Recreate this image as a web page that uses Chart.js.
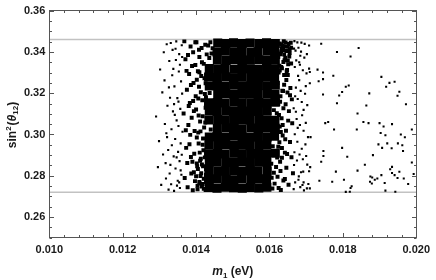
<!DOCTYPE html>
<html>
<head>
<meta charset="utf-8">
<script src="https://cdn.jsdelivr.net/npm/chart.js@4/dist/chart.umd.min.js"></script>
<style>
  body { margin: 0; background: #fff; }
  #box { width: 436px; height: 280px; }
</style>
</head>
<body>
<div id="box"><canvas id="myChart" width="436" height="280"></canvas></div>
<script>
'use strict';

// axis limits, minor tick steps and label steps
let m1Range = [0.010, 0.020];
let s12Range = [0.25, 0.36];
let m1Step = 0.0004;
let m1LabelStep = 0.002;
let s12Step = 0.005;
let s12LabelStep = 0.02;

// allowed range of sin^2(theta12) (grey lines)
let bandS12 = [0.272, 0.346];

// scan points [m1, sin^2(theta12)]
// sparse points right of the cloud
let tailPoints = [
  [0.01741,0.3439],[0.01843,0.3419],[0.01784,0.3399],[0.01821,0.3378],[0.01710,0.3303],
  [0.01731,0.3314],[0.01746,0.3300],[0.01774,0.3284],[0.01734,0.3258],[0.01746,0.3268],
  [0.01905,0.3279],[0.01927,0.3250],[0.01941,0.3255],[0.01918,0.3231],[0.01816,0.3237],
  [0.01808,0.3231],[0.01798,0.3206],[0.01790,0.3189],[0.01872,0.3199],[0.01954,0.3207],
  [0.01949,0.3188],[0.01746,0.3194],[0.01784,0.3151],[0.01864,0.3140],[0.01972,0.3146],
  [0.01840,0.3102],[0.01752,0.3055],[0.01760,0.3060],[0.01856,0.3060],[0.01870,0.3055],
  [0.01900,0.3055],[0.01911,0.3039],[0.01934,0.3050],[0.01776,0.3024],[0.01838,0.3024],
  [0.01988,0.3024],[0.01903,0.3007],[0.01916,0.2996],[0.01958,0.3000],[0.01969,0.2987],
  [0.01798,0.2935],[0.01812,0.2892],[0.01747,0.2920],[0.01747,0.2896],[0.01741,0.2868],
  [0.01860,0.2853],[0.01882,0.2900],[0.01840,0.2825],[0.01781,0.2820],[0.01736,0.2776],
  [0.01771,0.2771],[0.01803,0.2781],[0.01824,0.2749],[0.01821,0.2741],[0.01808,0.2722],
  [0.01819,0.2723],[0.01875,0.2796],[0.01880,0.2792],[0.01874,0.2771],[0.01879,0.2763],
  [0.01887,0.2781],[0.01894,0.2787],[0.01905,0.2803],[0.01914,0.2765],[0.01916,0.2728],
  [0.01943,0.2723],[0.01929,0.2832],[0.01934,0.2843],[0.01934,0.2813],[0.01941,0.2803],
  [0.01954,0.2819],[0.01949,0.2789],[0.01966,0.2787],[0.01978,0.2760],[0.01988,0.2864],
  [0.01993,0.2809],[0.01964,0.2920],[0.01950,0.2957],[0.01933,0.2933],[0.01921,0.2957],
  [0.01907,0.2935],[0.01897,0.2952],[0.01962,0.2948]
];

// thin edges of the cloud (left 0.0129-0.0136, right 0.0166-0.0171)
let edgePoints = [
  [0.01291,0.3087],[0.01296,0.2842],[0.01302,0.3315],[0.01299,0.2968],[0.01305,0.2756],
  [0.01308,0.3204],[0.01312,0.3398],[0.01310,0.2903],[0.01315,0.3051],[0.01318,0.2787],
  [0.01314,0.3262],[0.01320,0.3437],[0.01317,0.2861],[0.01322,0.3139],[0.01319,0.3006],
  [0.01325,0.2733],[0.01327,0.3356],[0.01324,0.2925],[0.01329,0.3178],[0.01331,0.3443],
  [0.01328,0.2811],[0.01333,0.3025],[0.01335,0.3287],[0.01332,0.2759],[0.01337,0.3112],
  [0.01339,0.2894],[0.01336,0.3410],[0.01341,0.3233],[0.01343,0.2978],[0.01340,0.2727],
  [0.01345,0.3361],[0.01344,0.2835],[0.01347,0.3068],[0.01349,0.3176],[0.01346,0.3451],
  [0.01351,0.2916],[0.01350,0.2776],[0.01353,0.3305],[0.01352,0.3041],[0.01355,0.2871],
  [0.01354,0.3389],[0.01357,0.3124],[0.01356,0.2741],[0.01359,0.3257],[0.01358,0.2957],
  [0.01361,0.3432],[0.01360,0.2805],[0.01362,0.3198],[0.01363,0.3013],[0.01361,0.2902],
  [0.01338,0.3318],[0.01342,0.3095],[0.01348,0.2752],[0.01334,0.2948],[0.01356,0.3338],
  [0.01326,0.3228],[0.01352,0.3159],[0.01344,0.3415],[0.01330,0.2853],[0.01358,0.2826],
  [0.01321,0.2987],[0.01347,0.2889],[0.01362,0.3375],[0.01340,0.3147],[0.01354,0.2768],
  [0.01668,0.3452],[0.01691,0.3311],[0.01675,0.2874],[0.01702,0.3389],[0.01683,0.3046],
  [0.01670,0.2768],[0.01697,0.3197],[0.01679,0.3420],[0.01688,0.2931],[0.01710,0.3248],
  [0.01666,0.3127],[0.01684,0.2745],[0.01699,0.3056],[0.01673,0.3359],[0.01692,0.2820],
  [0.01681,0.3263],[0.01705,0.2987],[0.01669,0.3001],[0.01686,0.3401],[0.01677,0.3172],
  [0.01694,0.2729],[0.01672,0.3227],[0.01700,0.2896],[0.01683,0.3338],[0.01667,0.2852],
  [0.01689,0.3093],[0.01708,0.3431],[0.01676,0.2965],[0.01695,0.3372],[0.01680,0.2797],
  [0.01671,0.3406],[0.01698,0.2952],[0.01685,0.3211],[0.01666,0.2735],[0.01703,0.3142],
  [0.01678,0.3284],[0.01690,0.2755],[0.01674,0.3075],[0.01687,0.3445],[0.01711,0.2842],
  [0.01669,0.3327],[0.01693,0.3018],[0.01682,0.2903],[0.01676,0.3446],[0.01701,0.3296],
  [0.01668,0.2914],[0.01688,0.3157],[0.01679,0.2781],[0.01696,0.3439],[0.01672,0.3110],
  [0.01684,0.3381],[0.01706,0.2760],[0.01670,0.3185],[0.01691,0.2880],[0.01677,0.3032],
  [0.01699,0.3234],[0.01667,0.3416],[0.01686,0.2817],[0.01681,0.3350],[0.01693,0.3119],
  [0.01708,0.3319],[0.01712,0.2987],[0.01703,0.2854],[0.01708,0.2822],[0.01693,0.2768],
  [0.01702,0.2739],[0.01710,0.2739]
];

// denser shoulders next to the core
let nearPoints = [
  [0.01366,0.3102],[0.01369,0.2789],[0.01371,0.3364],[0.01373,0.2935],[0.01375,0.3217],
  [0.01368,0.3451],[0.01377,0.2744],[0.01379,0.3046],[0.01381,0.3293],[0.01376,0.2862],
  [0.01383,0.3152],[0.01385,0.3426],[0.01387,0.2811],[0.01384,0.2998],[0.01389,0.3332],
  [0.01391,0.2730],[0.01388,0.3081],[0.01393,0.3249],[0.01395,0.2907],[0.01392,0.3398],
  [0.01397,0.2774],[0.01399,0.3185],[0.01396,0.3017],[0.01401,0.3447],[0.01403,0.2846],
  [0.01400,0.3121],[0.01405,0.3306],[0.01407,0.2956],[0.01404,0.2752],[0.01409,0.3375],
  [0.01411,0.3063],[0.01408,0.3231],[0.01413,0.2882],[0.01415,0.3419],[0.01412,0.2799],
  [0.01417,0.3166],[0.01419,0.2981],[0.01416,0.3350],[0.01421,0.2737],[0.01423,0.3272],
  [0.01420,0.2924],[0.01425,0.3435],[0.01422,0.3034],[0.01427,0.2832],[0.01424,0.3196],
  [0.01378,0.3385],[0.01382,0.2953],[0.01386,0.3240],[0.01390,0.2868],[0.01394,0.3113],
  [0.01398,0.3336],[0.01402,0.2985],[0.01406,0.3174],[0.01410,0.2763],[0.01414,0.3283],
  [0.01418,0.3088],[0.01372,0.3020],[0.01380,0.3138],[0.01394,0.2817],[0.01402,0.3265],
  [0.01410,0.2912],[0.01418,0.2760],[0.01374,0.3308],[0.01386,0.2891],[0.01398,0.3447],
  [0.01406,0.3009],[0.01426,0.3129],[0.01416,0.2855],[0.01392,0.3162],[0.01408,0.3410],
  [0.01404,0.2735],[0.01416,0.2748],[0.01426,0.2731],[0.01409,0.2770],[0.01421,0.2786],
  [0.01400,0.2798],[0.01414,0.2812],[0.01427,0.2805],[0.01405,0.2833],[0.01419,0.2846],
  [0.01411,0.2873],[0.01424,0.2889],[0.01402,0.2860],[0.01412,0.3015],[0.01425,0.3058],
  [0.01407,0.3092],[0.01428,0.3140],[0.01413,0.3205],[0.01426,0.3248],[0.01409,0.3301],
  [0.01421,0.3342],[0.01429,0.3388],[0.01418,0.2950],[0.01430,0.2975],[0.01427,0.3180],
  [0.01433,0.3431],[0.01445,0.3418],[0.01439,0.3447],[0.01442,0.3392],[0.01436,0.3370],
  [0.01437,0.3201],[0.01440,0.3024],
  [0.01617,0.3448],[0.01620,0.3103],[0.01622,0.2795],[0.01619,0.3267],[0.01624,0.2941],
  [0.01626,0.3392],[0.01628,0.3038],[0.01625,0.2741],[0.01630,0.3185],[0.01632,0.3436],
  [0.01629,0.2868],[0.01634,0.3321],[0.01636,0.2995],[0.01633,0.3079],[0.01638,0.2777],
  [0.01640,0.3241],[0.01637,0.3409],[0.01642,0.2912],[0.01644,0.3146],[0.01641,0.3360],
  [0.01646,0.2839],[0.01648,0.3425],[0.01645,0.3018],[0.01650,0.3288],[0.01652,0.2756],
  [0.01649,0.3203],[0.01654,0.3378],[0.01656,0.2964],[0.01653,0.3113],[0.01658,0.3444],
  [0.01660,0.2890],[0.01657,0.3225],[0.01662,0.3054],[0.01659,0.3344],[0.01664,0.2812],
  [0.01618,0.3006],[0.01621,0.2888],[0.01623,0.3163],[0.01627,0.3333],[0.01631,0.2731],
  [0.01635,0.3212],[0.01639,0.3452],[0.01643,0.2977],[0.01647,0.3306],[0.01651,0.3067],
  [0.01655,0.3413],[0.01661,0.3170],[0.01620,0.3419],[0.01624,0.3375],[0.01628,0.3310],
  [0.01632,0.3402],[0.01636,0.3431],[0.01640,0.3387],[0.01644,0.3446],[0.01630,0.2823],
  [0.01638,0.3127],[0.01646,0.3264],[0.01634,0.2934],[0.01642,0.2784],[0.01650,0.3358],
  [0.01626,0.3094],[0.01648,0.2905],[0.01622,0.3249],[0.01656,0.3190],[0.01636,0.3046],
  [0.01628,0.3441],[0.01641,0.3428],[0.01652,0.3438],[0.01633,0.3418],[0.01646,0.3404],
  [0.01659,0.3420],[0.01629,0.3389],[0.01643,0.3372],[0.01655,0.3395],[0.01638,0.3351],
  [0.01651,0.3340],[0.01632,0.3327],[0.01648,0.3312],[0.01625,0.3300],[0.01640,0.3288],
  [0.01608,0.2738],[0.01614,0.2762],[0.01606,0.2790],[0.01612,0.2815],[0.01618,0.2842],
  [0.01605,0.2858],[0.01624,0.3148],[0.01631,0.3012],[0.01619,0.3061],[0.01637,0.3211],
  [0.01627,0.2962],[0.01634,0.2887],[0.01621,0.3235],[0.01629,0.3159],[0.01612,0.3118],
  [0.01609,0.2943]
];

// the saturated core of the cloud (drawn with bigger marks)
let corePoints = [
  [0.01459,0.3443],[0.01481,0.3440],[0.01502,0.3444],[0.01526,0.3441],[0.01547,0.3443],[0.01571,0.3440],[0.01592,0.3444],[0.01616,0.3441],
  [0.01457,0.3399],[0.01480,0.3403],[0.01504,0.3400],[0.01524,0.3402],[0.01549,0.3398],[0.01569,0.3401],[0.01594,0.3403],[0.01614,0.3399],
  [0.01458,0.3361],[0.01482,0.3358],[0.01503,0.3362],[0.01525,0.3359],[0.01548,0.3361],[0.01571,0.3362],[0.01592,0.3358],[0.01616,0.3360],
  [0.01436,0.3319],[0.01459,0.3317],[0.01479,0.3320],[0.01504,0.3316],[0.01526,0.3319],[0.01547,0.3318],[0.01570,0.3316],[0.01593,0.3320],[0.01615,0.3317],
  [0.01434,0.3278],[0.01458,0.3276],[0.01481,0.3279],[0.01502,0.3275],[0.01525,0.3278],[0.01549,0.3276],[0.01571,0.3279],[0.01592,0.3277],[0.01614,0.3276],
  [0.01436,0.3235],[0.01457,0.3237],[0.01480,0.3234],[0.01503,0.3238],[0.01526,0.3236],[0.01548,0.3234],[0.01570,0.3237],[0.01594,0.3235],[0.01616,0.3238],
  [0.01459,0.3193],[0.01481,0.3197],[0.01504,0.3194],[0.01524,0.3196],[0.01547,0.3195],[0.01569,0.3193],[0.01593,0.3197],[0.01615,0.3194],
  [0.01434,0.3153],[0.01458,0.3155],[0.01479,0.3152],[0.01503,0.3156],[0.01525,0.3154],[0.01549,0.3152],[0.01571,0.3155],[0.01592,0.3153],[0.01616,0.3156],
  [0.01436,0.3114],[0.01457,0.3111],[0.01481,0.3115],[0.01502,0.3112],[0.01526,0.3114],[0.01548,0.3111],[0.01570,0.3113],[0.01594,0.3115],
  [0.01435,0.3070],[0.01459,0.3073],[0.01480,0.3071],[0.01504,0.3069],[0.01525,0.3072],[0.01547,0.3070],[0.01571,0.3073],[0.01593,0.3071],[0.01615,0.3069],
  [0.01458,0.3029],[0.01482,0.3032],[0.01503,0.3030],[0.01524,0.3028],[0.01549,0.3031],[0.01569,0.3029],[0.01592,0.3032],[0.01616,0.3030],
  [0.01436,0.2988],[0.01457,0.2990],[0.01480,0.2987],[0.01502,0.2991],[0.01526,0.2989],[0.01548,0.2987],[0.01570,0.2990],[0.01594,0.2988],[0.01614,0.2991],
  [0.01435,0.2949],[0.01459,0.2946],[0.01481,0.2950],[0.01504,0.2947],[0.01525,0.2949],[0.01547,0.2946],[0.01571,0.2948],[0.01593,0.2950],
  [0.01434,0.2906],[0.01458,0.2908],[0.01479,0.2905],[0.01503,0.2909],[0.01526,0.2907],[0.01549,0.2905],[0.01570,0.2908],[0.01592,0.2906],[0.01616,0.2909],
  [0.01436,0.2865],[0.01457,0.2868],[0.01481,0.2864],[0.01502,0.2866],[0.01525,0.2868],[0.01548,0.2865],[0.01571,0.2867],[0.01593,0.2864],
  [0.01435,0.2826],[0.01459,0.2824],[0.01480,0.2822],[0.01504,0.2825],[0.01526,0.2823],[0.01547,0.2826],[0.01569,0.2824],[0.01594,0.2822],
  [0.01434,0.2782],[0.01458,0.2785],[0.01482,0.2783],[0.01503,0.2781],[0.01524,0.2784],[0.01549,0.2782],[0.01570,0.2785],[0.01592,0.2783],
  [0.01436,0.2743],[0.01457,0.2740],[0.01480,0.2744],[0.01502,0.2742],[0.01526,0.2740],[0.01548,0.2743],[0.01571,0.2741],[0.01593,0.2744]
];

Chart.defaults.font.family = '"Liberation Sans", Arial, sans-serif';

function toXY(list) {
    return list.map(p => ({ x: p[0], y: p[1] }));
}

function isMajor(v, step) {
    return Math.abs(v / step - Math.round(v / step)) < 1e-6;
}

// side of a 'rect' point is radius * sqrt(2)
function dots(list, radius) {
    return {
        data: toXY(list),
        pointStyle: 'rect',
        pointRadius: radius,
        pointHoverRadius: radius,
        pointBorderWidth: 0,
        pointBackgroundColor: '#000',
        borderWidth: 0,
        showLine: false,
        order: 1
    };
}

let bandLines = bandS12.map(v => ({
    data: [{ x: m1Range[0], y: v }, { x: m1Range[1], y: v }],
    showLine: true,
    borderColor: '#c2c2c2',
    borderWidth: 1.6,
    pointRadius: 0,
    order: 5
}));

// frame with inward ticks (Mathematica style) and the axis titles
let frame = {
    id: 'frame',
    afterDraw(chart) {
        let ctx = chart.ctx;
        let a = chart.chartArea;
        let xs = chart.scales.x;
        let ys = chart.scales.y;
        let L = Math.floor(a.left) + 0.5;
        let R = Math.floor(a.right) + 0.5;
        let T = Math.floor(a.top) + 0.5;
        let B = Math.floor(a.bottom) + 0.5;

        ctx.save();
        ctx.strokeStyle = '#555';
        ctx.lineWidth = 1;
        ctx.strokeRect(L, T, R - L, B - T);

        ctx.beginPath();
        xs.ticks.forEach(t => {
            let px = Math.round(xs.getPixelForValue(t.value)) + 0.5;
            let len = isMajor(t.value, m1LabelStep) ? 4.5 : 2.5;
            ctx.moveTo(px, B); ctx.lineTo(px, B - len);
            ctx.moveTo(px, T); ctx.lineTo(px, T + len);
        });
        ys.ticks.forEach(t => {
            let py = Math.round(ys.getPixelForValue(t.value)) + 0.5;
            let len = isMajor(t.value, s12LabelStep) ? 4.5 : 2.5;
            ctx.moveTo(L, py); ctx.lineTo(L + len, py);
            ctx.moveTo(R, py); ctx.lineTo(R - len, py);
        });
        ctx.stroke();

        ctx.fillStyle = '#1a1a1a';
        ctx.textBaseline = 'alphabetic';
        let fam = '"Liberation Sans", Arial, sans-serif';

        function pieces(list, cx, cy) {
            let total = 0;
            list.forEach(p => { ctx.font = p.f + ' ' + fam; total += ctx.measureText(p.t).width + (p.gap || 0); });
            let x = cx - total / 2;
            list.forEach(p => {
                ctx.font = p.f + ' ' + fam;
                ctx.fillText(p.t, x, cy + (p.dy || 0));
                x += ctx.measureText(p.t).width + (p.gap || 0);
            });
        }

        pieces([
            { t: 'm', f: 'italic bold 12px' },
            { t: '1', f: 'bold 8px', dy: 2.5 },
            { t: ' (eV)', f: 'bold 12px' }
        ], (a.left + a.right) / 2, 275);

        ctx.translate(15.5, 125);
        ctx.rotate(-Math.PI / 2);
        pieces([
            { t: 'sin', f: 'bold 12px' },
            { t: '2', f: 'bold 8px', dy: -5, gap: 1 },
            { t: '(', f: 'bold 12px' },
            { t: 'θ', f: 'italic bold 12px' },
            { t: '12', f: 'bold 8px', dy: 2.5 },
            { t: ')', f: 'bold 12px' }
        ], 0, 0);
        ctx.restore();
    }
};

let config = {
    type: 'scatter',
    data: {
        datasets: [
            dots(corePoints, 6.4),
            dots(nearPoints, 2.8),
            dots(edgePoints, 1.5),
            dots(tailPoints, 1.45)
        ].concat(bandLines)
    },
    options: {
        responsive: false,
        animation: false,
        events: [],
        layout: { padding: { top: 8, right: 14, bottom: 0, left: 0 } },
        plugins: {
            legend: { display: false },
            tooltip: { enabled: false }
        },
        scales: {
            x: {
                type: 'linear',
                min: m1Range[0],
                max: m1Range[1],
                grid: { display: false, drawTicks: false },
                border: { display: false },
                ticks: {
                    stepSize: m1Step,
                    autoSkip: false,
                    maxRotation: 0,
                    padding: 6,
                    color: '#1a1a1a',
                    font: { size: 11, weight: 'bold' },
                    callback: v => isMajor(v, m1LabelStep) ? v.toFixed(3) : ''
                },
                afterFit: s => { s.height = 42.3; }
            },
            y: {
                type: 'linear',
                min: s12Range[0],
                max: s12Range[1],
                grid: { display: false, drawTicks: false },
                border: { display: false },
                ticks: {
                    stepSize: s12Step,
                    autoSkip: false,
                    padding: 4,
                    color: '#1a1a1a',
                    font: { size: 11, weight: 'bold' },
                    callback: v => isMajor(v, s12LabelStep) ? v.toFixed(2) : ''
                },
                afterFit: s => { s.width = 49.3; }
            }
        }
    },
    plugins: [frame]
};

var myChart = new Chart(document.getElementById('myChart'), config);
</script>
</body>
</html>
